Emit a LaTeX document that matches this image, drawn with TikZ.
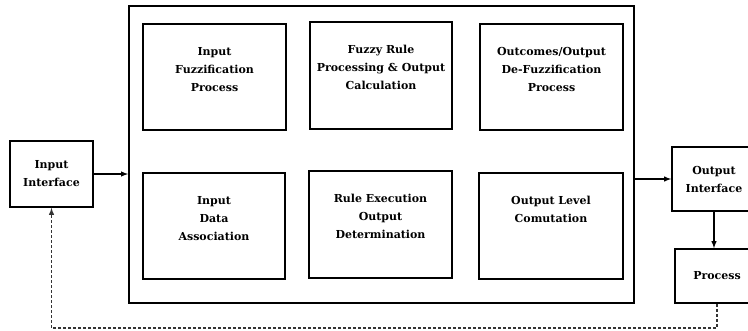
\documentclass[tikz,border=0pt]{standalone}
\usepackage{fontspec}
\setmainfont{DejaVu Serif}
\begin{document}
\begin{tikzpicture}[x=1pt,y=-1pt]

  \tikzstyle{block} = [draw, line width=1.6, inner sep=0, align=center,
                       font=\bfseries\fontsize{11}{18}\selectfont]
  \tikzstyle{inside} = [align=center, anchor=north, inner sep=0, yshift=-24,
                        font=\bfseries\fontsize{11}{18}\selectfont]
  \tikzstyle{flow} = [line width=1.4, -latex]
  \tikzstyle{feedback} = [line width=1.4, densely dashed, black!80, -latex]

  \useasboundingbox (0,0) rectangle (748,330);

  % outer block with the six stages
  \node[draw, line width=1.8, minimum width=505, minimum height=297] (main) at (381.5,154.5) {};

  \node[block, minimum width=143, minimum height=106,
        label={[inside]north:{Input\\Fuzzification\\Process}}] (fuzz) at (214.5,77) {};
  \node[block, minimum width=142, minimum height=107,
        label={[inside]north:{Fuzzy Rule\\Processing \& Output\\Calculation}}] (rule) at (381,75.5) {};
  \node[block, minimum width=143, minimum height=106,
        label={[inside]north:{Outcomes/Output\\De-Fuzzification\\Process}}] (defuzz) at (551.5,77) {};

  \node[block, minimum width=142, minimum height=106,
        label={[inside]north:{Input\\Data\\Association}}] (assoc) at (214,226) {};
  \node[block, minimum width=143, minimum height=107,
        label={[inside]north:{Rule Execution\\Output\\Determination}}] (exec) at (380.5,224.5) {};
  \node[block, minimum width=144, minimum height=106,
        label={[inside]north:{Output Level\\Comutation}}] (level) at (551,226) {};

  % interfaces
  \node[block, minimum width=83, minimum height=66] (inif) at (51.5,174) {Input\\Interface};
  \node[block, minimum width=84, minimum height=64] (outif) at (714,179) {Output\\Interface};
  \node[block, minimum width=84, minimum height=54] (proc) at (717,276) {Process};

  \draw[flow] (inif.east) -- (inif.east -| main.west);
  \draw[flow] (main.east |- outif.west) -- (outif.west);
  \draw[flow] (outif.south) -- (outif.south |- proc.north);

  %\draw[flow] (fuzz) -- (rule);
  \coordinate (back) at (717,328);
  \draw[feedback] (proc.south) -- (back) -| (inif.south);

\end{tikzpicture}
\end{document}
